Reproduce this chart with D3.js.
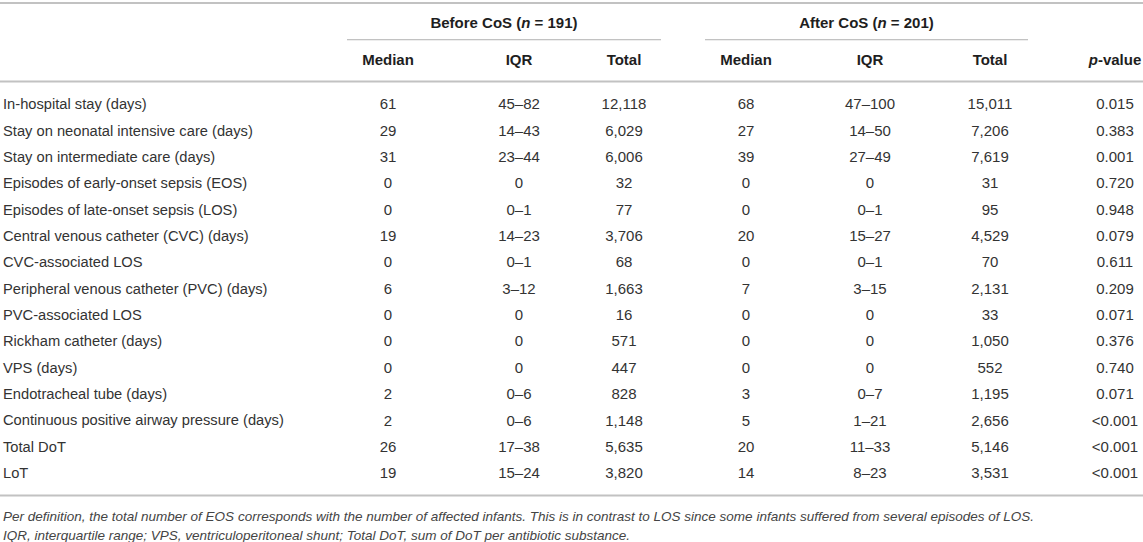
<!DOCTYPE html>
<html>
<head>
<meta charset="utf-8">
<script src="https://cdn.jsdelivr.net/npm/d3@7"></script>
<style>
  body { margin: 0; background: #fff; }
  text { font-family: "Liberation Sans", Arial, sans-serif; }
</style>
</head>
<body>
<div id="chart"></div>
<script>
const rowLabels = [
  "In-hospital stay (days)",
  "Stay on neonatal intensive care (days)",
  "Stay on intermediate care (days)",
  "Episodes of early-onset sepsis (EOS)",
  "Episodes of late-onset sepsis (LOS)",
  "Central venous catheter (CVC) (days)",
  "CVC-associated LOS",
  "Peripheral venous catheter (PVC) (days)",
  "PVC-associated LOS",
  "Rickham catheter (days)",
  "VPS (days)",
  "Endotracheal tube (days)",
  "Continuous positive airway pressure (days)",
  "Total DoT",
  "LoT"
];
const beforeMedian = [61, 29, 31, 0, 0, 19, 0, 6, 0, 0, 0, 2, 2, 26, 19];
const beforeIQR = ["45–82", "14–43", "23–44", "0", "0–1", "14–23", "0–1", "3–12", "0", "0", "0", "0–6", "0–6", "17–38", "15–24"];
const beforeTotal = [12118, 6029, 6006, 32, 77, 3706, 68, 1663, 16, 571, 447, 828, 1148, 5635, 3820];
const afterMedian = [68, 27, 39, 0, 0, 20, 0, 7, 0, 0, 0, 3, 5, 20, 14];
const afterIQR = ["47–100", "14–50", "27–49", "0", "0–1", "15–27", "0–1", "3–15", "0", "0", "0", "0–7", "1–21", "11–33", "8–23"];
const afterTotal = [15011, 7206, 7619, 31, 95, 4529, 70, 2131, 33, 1050, 552, 1195, 2656, 5146, 3531];
const pValues = ["0.015", "0.383", "0.001", "0.720", "0.948", "0.079", "0.611", "0.209", "0.071", "0.376", "0.740", "0.071", "<0.001", "<0.001", "<0.001"];

const groups = [
  { label: "Before CoS", n: 191 },
  { label: "After CoS", n: 201 }
];
const columnKeys = ["bMed", "bIqr", "bTot", "aMed", "aIqr", "aTot", "p"];
const columnNames = ["Median", "IQR", "Total", "Median", "IQR", "Total", "p-value"];
const footnotes = [
  "Per definition, the total number of EOS corresponds with the number of affected infants. This is in contrast to LOS since some infants suffered from several episodes of LOS.",
  "IQR, interquartile range; VPS, ventriculoperitoneal shunt; Total DoT, sum of DoT per antibiotic substance."
];

const width = 1143, height = 542;
const fmt = d3.format(",");

const svg = d3.select("#chart")
  .append("svg")
  .attr("width", width)
  .attr("height", height);

// column centres
const x = d3.scaleOrdinal()
  .domain(columnKeys)
  .range([388, 519, 624, 746, 870, 990, 1115]);

const y = d3.scalePoint()
  .domain(rowLabels)
  .range([104, 473]);

const rows = rowLabels.map((label, i) => ({
  label,
  cells: [
    beforeMedian[i], beforeIQR[i], fmt(beforeTotal[i]),
    afterMedian[i], afterIQR[i], fmt(afterTotal[i]),
    pValues[i]
  ]
}));

const ruleColor = "#c2c2c2";
const fontSize = "15px";

// horizontal rules
svg.append("rect").attr("x", 0).attr("y", 2).attr("width", width).attr("height", 2).attr("fill", ruleColor);
svg.append("rect").attr("x", 0).attr("y", 80.5).attr("width", width).attr("height", 2).attr("fill", ruleColor);
svg.append("rect").attr("x", 0).attr("y", 494.5).attr("width", width).attr("height", 2).attr("fill", ruleColor);

// group headers
const groupSpan = [[347, 661], [705, 1028]];
groups.forEach((g, i) => {
  svg.append("rect")
    .attr("x", groupSpan[i][0])
    .attr("y", 39)
    .attr("width", groupSpan[i][1] - groupSpan[i][0])
    .attr("height", 1.3)
    .attr("fill", ruleColor);

  const t = svg.append("text")
    .attr("x", (groupSpan[i][0] + groupSpan[i][1]) / 2)
    .attr("y", 23)
    .attr("dy", "0.35em")
    .attr("text-anchor", "middle")
    .style("font-size", fontSize)
    .style("font-weight", "bold")
    .style("fill", "#1e1e1e");
  t.append("tspan").text(g.label + " (");
  t.append("tspan").style("font-style", "italic").text("n");
  t.append("tspan").text(" = " + g.n + ")");
});

// column headers
columnKeys.forEach((k, i) => {
  const t = svg.append("text")
    .attr("x", x(k))
    .attr("y", 60)
    .attr("dy", "0.35em")
    .attr("text-anchor", "middle")
    .style("font-size", fontSize)
    .style("font-weight", "bold")
    .style("fill", "#1e1e1e");
  if (k === "p") {
    t.append("tspan").style("font-style", "italic").text("p");
    t.append("tspan").text("-value");
  } else {
    t.text(columnNames[i]);
  }
});

// body rows
const row = svg.selectAll("g.row")
  .data(rows)
  .join("g")
  .attr("class", "row")
  .attr("transform", d => `translate(0,${y(d.label)})`);

row.append("text")
  .attr("x", 3)
  .attr("dy", "0.35em")
  .style("font-size", "14.7px")
  .style("fill", "#333")
  .text(d => d.label);

row.selectAll("text.cell")
  .data(d => d.cells.map((v, j) => ({ v, key: columnKeys[j] })))
  .join("text")
  .attr("class", "cell")
  .attr("x", d => x(d.key))
  .attr("dy", "0.35em")
  .attr("text-anchor", "middle")
  .style("font-size", fontSize)
  .style("fill", "#333")
  .text(d => d.v);

// footnotes
svg.selectAll("text.note")
  .data(footnotes)
  .join("text")
  .attr("class", "note")
  .attr("x", 3)
  .attr("y", (d, i) => 516 + i * 19.5)
  .attr("dy", "0.35em")
  .style("font-size", "13.5px")
  .style("font-style", "italic")
  .style("fill", "#444")
  .text(d => d);
</script>
</body>
</html>
